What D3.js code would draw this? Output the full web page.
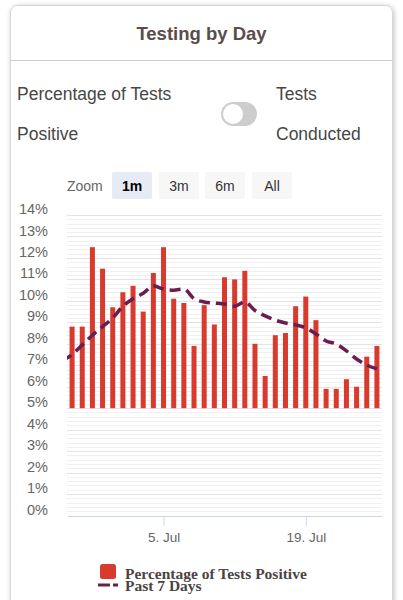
<!DOCTYPE html>
<html>
<head>
<meta charset="utf-8">
<script src="https://cdn.jsdelivr.net/npm/d3@7/dist/d3.min.js"></script>
<style>
  html, body { margin: 0; padding: 0; background: #fff; }
  svg { display: block; }
</style>
</head>
<body>
<svg id="chart" width="403" height="600"></svg>
<script>
// ---- data ----
const dates = [
  "2020-06-26","2020-06-27","2020-06-28","2020-06-29","2020-06-30",
  "2020-07-01","2020-07-02","2020-07-03","2020-07-04","2020-07-05",
  "2020-07-06","2020-07-07","2020-07-08","2020-07-09","2020-07-10",
  "2020-07-11","2020-07-12","2020-07-13","2020-07-14","2020-07-15",
  "2020-07-16","2020-07-17","2020-07-18","2020-07-19","2020-07-20",
  "2020-07-21","2020-07-22","2020-07-23","2020-07-24","2020-07-25",
  "2020-07-26"
];
const percentPositive = [
  8.8, 8.8, 12.5, 11.5, 9.7, 10.4, 10.7, 9.5, 11.3, 12.5,
  10.1, 9.9, 7.9, 9.8, 8.9, 11.1, 11.0, 11.4, 8.0, 6.5,
  8.4, 8.5, 9.75, 10.2, 9.1, 5.9, 5.9, 6.35, 6.0, 7.4,
  7.9
];
// 7-day average (includes the day before the window, clipped at the plot edge)
const avgDates = ["2020-06-25"].concat(dates);
const past7Days = [
  7.2, 7.5, 7.95, 8.4, 8.8, 9.2, 9.75, 10.1, 10.35, 10.7,
  10.55, 10.5, 10.55, 10.1, 9.95, 9.9, 9.85, 9.75, 9.95, 9.55,
  9.3, 9.1, 8.97, 8.88, 8.74, 8.46, 8.13, 7.99, 7.67, 7.29,
  7.01, 6.83
];
const barBase = 5;
const yTicks = [0,1,2,3,4,5,6,7,8,9,10,11,12,13,14];
const xTicks = ["2020-07-05","2020-07-19"];
const zoomButtons = ["1m","3m","6m","All"];
const seriesNames = ["Percentage of Tests Positive","Past 7 Days"];

// ---- drawing ----
const parse = d3.utcParse("%Y-%m-%d");
const svg = d3.select("#chart");
const sans = "'Liberation Sans', Arial, Helvetica, sans-serif";

// card
const defs = svg.append("defs");
const f = defs.append("filter").attr("id","shadow").attr("x","-10%").attr("y","-10%").attr("width","120%").attr("height","120%");
f.append("feDropShadow").attr("dx",1).attr("dy",1).attr("stdDeviation",2.5).attr("flood-color","#000").attr("flood-opacity",0.25);
svg.append("rect").attr("x",10.5).attr("y",5.5).attr("width",382).attr("height",640)
  .attr("rx",7).attr("fill","#fff").attr("stroke","#d8d8d8").attr("filter","url(#shadow)");
svg.append("line").attr("x1",10.5).attr("x2",392.5).attr("y1",60.5).attr("y2",60.5)
  .attr("stroke","#cfcfcf").attr("stroke-width",1);

svg.append("text").attr("x",201.5).attr("y",39.5).attr("text-anchor","middle")
  .attr("font-family",sans).attr("font-weight","bold").attr("font-size",18.5)
  .attr("fill","#5a4c49").text("Testing by Day");

const lab = (t,x,y) => svg.append("text").attr("x",x).attr("y",y)
  .attr("font-family",sans).attr("font-size",17.5).attr("fill","#474747").text(t);
lab("Percentage of Tests",17,100);
lab("Positive",17,140);
lab("Tests",276,100);
lab("Conducted",276,140);

// toggle
svg.append("rect").attr("x",221).attr("y",102).attr("width",36).attr("height",24).attr("rx",12).attr("fill","#cdcdcd");
svg.append("circle").attr("cx",233).attr("cy",114).attr("r",10).attr("fill","#fff");

// zoom buttons
svg.append("text").attr("x",67).attr("y",191).attr("font-family",sans).attr("font-size",14)
  .attr("fill","#666").text("Zoom");
const bx = [112,159,205,252];
zoomButtons.forEach((b,i) => {
  svg.append("rect").attr("x",bx[i]).attr("y",172).attr("width",40).attr("height",27).attr("rx",2)
    .attr("fill", i===0 ? "#e6ebf5" : "#f7f7f7");
  svg.append("text").attr("x",bx[i]+20).attr("y",191).attr("text-anchor","middle")
    .attr("font-family",sans).attr("font-size",14).attr("font-weight", i===0 ? "bold":"normal")
    .attr("fill", i===0 ? "#000" : "#333").text(b);
});

// scales
const x0 = new Date(parse(dates[0]).getTime() - 12*3600e3);
const x1 = new Date(parse(dates[dates.length-1]).getTime() + 12*3600e3);
const x = d3.scaleUtc().domain([x0,x1]).range([67,382]);
const y = d3.scaleLinear().domain([0,14]).range([515.5,215]);

// grid: minor lines every 0.2%, major every 1%
const minor = d3.range(0,14.001,0.2).filter(v => Math.abs(v - Math.round(v)) > 0.01);
svg.append("g").selectAll("line").data(minor).join("line")
  .attr("x1",67).attr("x2",382)
  .attr("y1",d=>Math.round(y(d))+0.5).attr("y2",d=>Math.round(y(d))+0.5)
  .attr("stroke","#f0f0f0").attr("stroke-width",1);
svg.append("g").selectAll("line").data(yTicks.slice(1)).join("line")
  .attr("x1",67).attr("x2",382)
  .attr("y1",d=>Math.round(y(d))+0.5).attr("y2",d=>Math.round(y(d))+0.5)
  .attr("stroke","#e3e3e3").attr("stroke-width",1);

// y axis labels
const yAxis = svg.append("g").attr("transform","translate(48,0)")
  .call(d3.axisLeft(y).tickValues(yTicks).tickFormat(d=>d+"%").tickSize(0).tickPadding(0));
yAxis.select(".domain").remove();
yAxis.selectAll("text").attr("font-family",sans).attr("font-size",14.5).attr("fill","#666").attr("dy","-0.1em");

// x axis
const xAxis = svg.append("g").attr("transform","translate(0,516)")
  .call(d3.axisBottom(x).tickValues(xTicks.map(parse)).tickFormat(d3.utcFormat("%-d. %b")).tickSize(10).tickPadding(6).tickSizeOuter(0));
xAxis.select(".domain").attr("stroke","#ccd6eb");
xAxis.selectAll(".tick line").attr("stroke","#ccd6eb");
xAxis.selectAll("text").attr("font-family",sans).attr("font-size",13.5).attr("fill","#666");

// bars
const bw = 5;
svg.append("g").selectAll("rect").data(dates.map((d,i)=>({d:parse(d),v:percentPositive[i]}))).join("rect")
  .attr("x",d=>x(d.d)-bw/2).attr("width",bw)
  .attr("y",d=>y(d.v)).attr("height",d=>y(barBase)-y(d.v))
  .attr("fill","#d93a2e");

// 7-day line
svg.append("clipPath").attr("id","plotclip").append("rect").attr("x",67).attr("y",200).attr("width",315).attr("height",320);
const line = d3.line().x(d=>x(d.d)).y(d=>y(d.v)).curve(d3.curveMonotoneX);
svg.append("path").attr("clip-path","url(#plotclip)")
  .datum(avgDates.map((d,i)=>({d:parse(d),v:past7Days[i]})))
  .attr("d",line).attr("fill","none").attr("stroke","#6b1d50")
  .attr("stroke-width",3.5).attr("stroke-dasharray","11,6");

// legend
const serif = "'Liberation Serif', 'Times New Roman', serif";
svg.append("rect").attr("x",100).attr("y",564).attr("width",16).attr("height",15).attr("rx",2.5).attr("fill","#d93a2e");
svg.append("line").attr("x1",98).attr("x2",110).attr("y1",585).attr("y2",585).attr("stroke","#6b1d50").attr("stroke-width",3);
svg.append("line").attr("x1",113).attr("x2",118).attr("y1",585).attr("y2",585).attr("stroke","#6b1d50").attr("stroke-width",3);
svg.append("text").attr("x",125).attr("y",578.5).attr("font-family",serif).attr("font-weight","bold")
  .attr("font-size",15.5).attr("fill","#4b4443").text(seriesNames[0]);
svg.append("text").attr("x",125).attr("y",591).attr("font-family",serif).attr("font-weight","bold")
  .attr("font-size",15.5).attr("fill","#4b4443").text(seriesNames[1]);
</script>
</body>
</html>
